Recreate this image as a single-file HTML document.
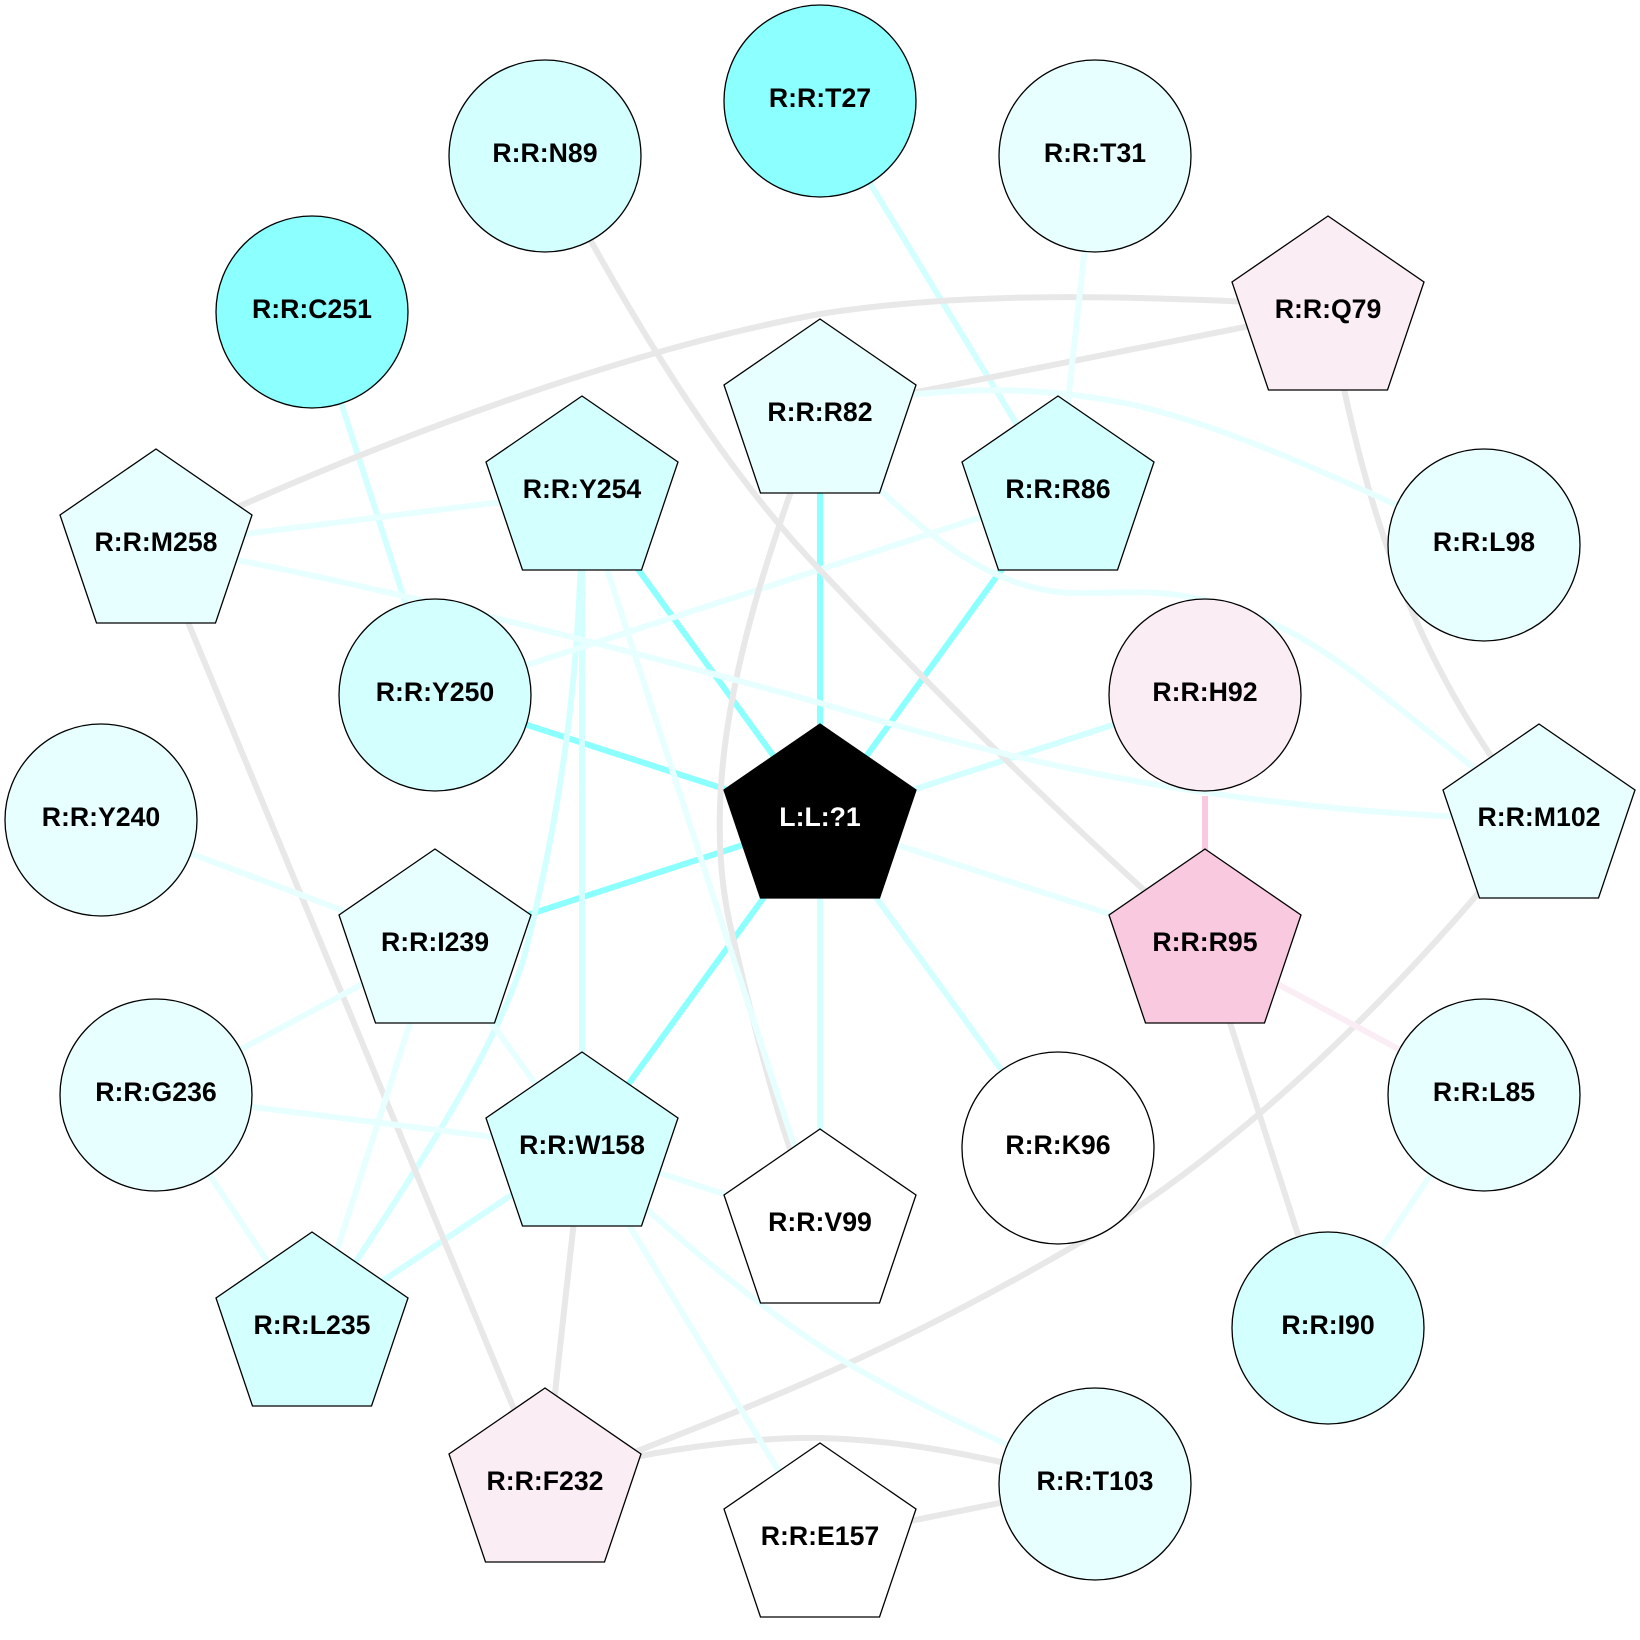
<!DOCTYPE html>
<html>
<head>
<meta charset="utf-8">
<style>
html,body{margin:0;padding:0;background:#fff;}
svg{display:block;}
text{font-family:"Liberation Sans",Arial,sans-serif;font-weight:bold;font-size:26.67px;text-anchor:middle;fill:#000;}
.e{fill:none;stroke-width:6;}
.s{stroke:#8cffff;}
.d{stroke:#d4ffff;}
.l{stroke:#e8ffff;}
.g{stroke:#e8e8e8;}
.n polygon,.n circle{stroke:#000;stroke-width:1.3;}
</style>
</head>
<body>
<svg width="1640" height="1640" viewBox="0 0 1640 1640" xmlns="http://www.w3.org/2000/svg">
<rect width="1640" height="1640" fill="#fff"/>
<!-- strong edges -->
<path class="e s" d="M820,415L820,820"/>
<path class="e s" d="M582,492L820,820"/>
<path class="e s" d="M1058,492L820,820"/>
<path class="e s" d="M435,695L820,820"/>
<path class="e s" d="M435,945L820,820"/>
<path class="e s" d="M582,1148L820,820"/>
<!-- light cyan edges -->
<path class="e d" d="M1205,695L820,820"/>
<path class="e d" d="M820,1225L820,820"/>
<path class="e d" d="M1058,1148L820,820"/>
<path class="e d" d="M820,101L1058,492"/>
<path class="e d" d="M312,312L435,695"/>
<path class="e d" d="M582,492L582,1148"/>
<path class="e d" d="M582,493C582,650 565,800 523,961C490,1060 420,1165 312,1328"/>
<path class="e d" d="M312,1328L582,1148"/>
<path class="e l" d="M435,695L1058,492"/>
<!-- gray edges -->
<path class="e g" d="M156,545L240,506C380,444 620,350 820,314C960,292 1120,294 1328,306"/>
<path class="e g" d="M545,156C600,260 700,445 820,570C900,655 1030,790 1205,945"/>
<path class="e g" d="M800,460L795,480C745,620 695,790 733,937C750,1010 770,1090 790,1149L800,1180"/>
<path class="e g" d="M900,396L917,392L1300,316"/>
<path class="e g" d="M1340,370C1365,490 1400,620 1489,753L1539,820"/>
<path class="e g" d="M156,545L545,1484"/>
<path class="e g" d="M582,1148L545,1484"/>
<path class="e g" d="M560,1480L640,1450C780,1395 920,1340 1123,1217C1240,1140 1360,1030 1476,896L1500,865"/>
<path class="e g" d="M600,1465C680,1445 770,1437 820,1438C890,1440 950,1448 1095,1484"/>
<path class="e g" d="M820,1539L1095,1484"/>
<path class="e g" d="M1205,945L1328,1328"/>
<!-- lighter edges -->
<path class="e l" d="M1205,945L820,820"/>
<path class="e l" d="M1095,156L1058,492"/>
<path class="e l" d="M880,398C960,388 1040,385 1134,405C1220,425 1310,465 1484,545"/>
<path class="e l" d="M860,470C920,530 990,590 1071,593C1130,595 1180,580 1280,627C1340,655 1400,710 1539,820"/>
<path class="e l" d="M156,545L582,492"/>
<path class="e l" d="M156,545C300,570 500,615 820,703C960,745 1150,800 1442,816L1539,820"/>
<path class="e l" d="M582,492L820,1225"/>
<path class="e l" d="M101,820L435,945"/>
<path class="e l" d="M156,1095L435,945"/>
<path class="e l" d="M435,945L582,1148"/>
<path class="e l" d="M435,945L312,1328"/>
<path class="e l" d="M156,1095L582,1148"/>
<path class="e l" d="M156,1095L312,1328"/>
<path class="e l" d="M582,1148L820,1225"/>
<path class="e l" d="M582,1148C660,1225 750,1300 820,1346C880,1385 960,1425 1095,1484"/>
<path class="e l" d="M582,1148L820,1539"/>
<path class="e l" d="M1484,1095L1328,1328"/>
<!-- pink -->
<path class="e" stroke="#f9c9df" d="M1205,796L1205,860"/>
<path class="e" stroke="#fbedf4" d="M1205,945L1484,1095"/>

<!-- nodes -->
<g class="n">
<g transform="translate(820,101)"><circle r="96" fill="#8cffff"/><text y="6">R:R:T27</text></g>
<g transform="translate(1095,156)"><circle r="96" fill="#e8ffff"/><text y="6">R:R:T31</text></g>
<g transform="translate(1328,312)"><polygon points="0,-96 96,-30 59.5,78 -59.5,78 -96,-30" fill="#fbedf4"/><text y="6">R:R:Q79</text></g>
<g transform="translate(1484,545)"><circle r="96" fill="#e8ffff"/><text y="6">R:R:L98</text></g>
<g transform="translate(1539,820)"><polygon points="0,-96 96,-30 59.5,78 -59.5,78 -96,-30" fill="#e8ffff"/><text y="6">R:R:M102</text></g>
<g transform="translate(1484,1095)"><circle r="96" fill="#e8ffff"/><text y="6">R:R:L85</text></g>
<g transform="translate(1328,1328)"><circle r="96" fill="#d4ffff"/><text y="6">R:R:I90</text></g>
<g transform="translate(1095,1484)"><circle r="96" fill="#e8ffff"/><text y="6">R:R:T103</text></g>
<g transform="translate(820,1539)"><polygon points="0,-96 96,-30 59.5,78 -59.5,78 -96,-30" fill="#ffffff"/><text y="6">R:R:E157</text></g>
<g transform="translate(545,1484)"><polygon points="0,-96 96,-30 59.5,78 -59.5,78 -96,-30" fill="#fbedf4"/><text y="6">R:R:F232</text></g>
<g transform="translate(312,1328)"><polygon points="0,-96 96,-30 59.5,78 -59.5,78 -96,-30" fill="#d4ffff"/><text y="6">R:R:L235</text></g>
<g transform="translate(156,1095)"><circle r="96" fill="#e8ffff"/><text y="6">R:R:G236</text></g>
<g transform="translate(101,820)"><circle r="96" fill="#e8ffff"/><text y="6">R:R:Y240</text></g>
<g transform="translate(156,545)"><polygon points="0,-96 96,-30 59.5,78 -59.5,78 -96,-30" fill="#e8ffff"/><text y="6">R:R:M258</text></g>
<g transform="translate(312,312)"><circle r="96" fill="#8cffff"/><text y="6">R:R:C251</text></g>
<g transform="translate(545,156)"><circle r="96" fill="#d4ffff"/><text y="6">R:R:N89</text></g>

<g transform="translate(820,415)"><polygon points="0,-96 96,-30 59.5,78 -59.5,78 -96,-30" fill="#e8ffff"/><text y="6">R:R:R82</text></g>
<g transform="translate(1058,492)"><polygon points="0,-96 96,-30 59.5,78 -59.5,78 -96,-30" fill="#d4ffff"/><text y="6">R:R:R86</text></g>
<g transform="translate(1205,695)"><circle r="96" fill="#fbedf4"/><text y="6">R:R:H92</text></g>
<g transform="translate(1205,945)"><polygon points="0,-96 96,-30 59.5,78 -59.5,78 -96,-30" fill="#f9c9df"/><text y="6">R:R:R95</text></g>
<g transform="translate(1058,1148)"><circle r="96" fill="#ffffff"/><text y="6">R:R:K96</text></g>
<g transform="translate(820,1225)"><polygon points="0,-96 96,-30 59.5,78 -59.5,78 -96,-30" fill="#ffffff"/><text y="6">R:R:V99</text></g>
<g transform="translate(582,1148)"><polygon points="0,-96 96,-30 59.5,78 -59.5,78 -96,-30" fill="#d4ffff"/><text y="6">R:R:W158</text></g>
<g transform="translate(435,945)"><polygon points="0,-96 96,-30 59.5,78 -59.5,78 -96,-30" fill="#e8ffff"/><text y="6">R:R:I239</text></g>
<g transform="translate(435,695)"><circle r="96" fill="#d4ffff"/><text y="6">R:R:Y250</text></g>
<g transform="translate(582,492)"><polygon points="0,-96 96,-30 59.5,78 -59.5,78 -96,-30" fill="#d4ffff"/><text y="6">R:R:Y254</text></g>

<g transform="translate(820,820)"><polygon points="0,-96 96,-30 59.5,78 -59.5,78 -96,-30" fill="#000000"/><text y="6" style="fill:#ffffff">L:L:?1</text></g>
</g>
</svg>
</body>
</html>
